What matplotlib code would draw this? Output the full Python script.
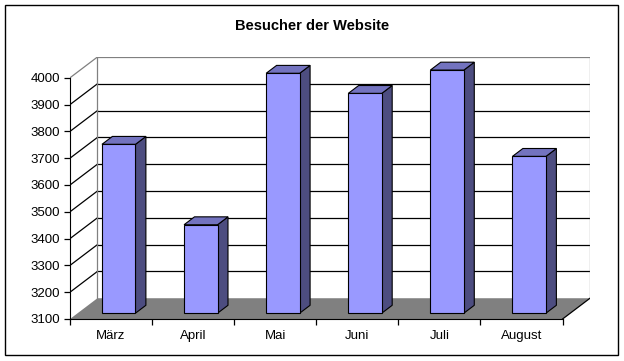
import numpy as np
import matplotlib.pyplot as plt
from matplotlib.patches import Polygon, Rectangle

plt.rcParams['font.family'] = ['Liberation Sans', 'DejaVu Sans']

monate = ['März', 'April', 'Mai', 'Juni', 'Juli', 'August']
besucher = [3730, 3430, 3995, 3920, 4007, 3685]
y_ticks = list(range(3100, 4001, 100))

# Schrägprojektion der Tiefe (in Datenkoordinaten)
dx, dy = 0.334, 77.5
d0, d1 = 0.28, 0.66
halb = 0.204
ymin, ymax = 3100, 4000

fig = plt.figure(figsize=(6.24, 3.61), dpi=100)
fig.patches.append(Rectangle((5/624, 1 - 355/361), 613/624, 350/361,
                             transform=fig.transFigure, fill=False,
                             edgecolor='black', lw=1.0))
fig.text(312/624, 1 - 26/361, 'Besucher der Website', ha='center',
         va='center', fontsize=10.5, fontweight='bold')

ax = fig.add_axes([70/624, 1 - 319/361, 520/624, 262/361])
n = len(monate)
ax.set_xlim(0, n + dx)
ax.set_ylim(ymin, ymax + dy)

# Rückwand: Gitterlinien
for v in y_ticks[1:-1]:
    ax.plot([dx, n + dx], [v + dy, v + dy], color='black', lw=0.9, zorder=1)
    ax.plot([0, dx], [v, v + dy], color='black', lw=0.9, zorder=1)
ax.plot([0, dx], [ymax, ymax + dy], color='#808080', lw=0.9, zorder=1)
ax.plot([dx, dx, n + dx, n + dx], [ymin + dy, ymax + dy, ymax + dy, ymin + dy],
        color='#808080', lw=0.9, zorder=1)

# Boden
ax.add_patch(Polygon([(0, ymin), (n, ymin), (n + dx, ymin + dy), (dx, ymin + dy)],
                     closed=True, facecolor='#808080', edgecolor='none', zorder=2))
ax.plot([n, n + dx], [ymin, ymin + dy], color='black', lw=0.9, zorder=2)

# Säulen
for i, v in enumerate(besucher):
    x0 = i + 0.5 - halb + d0 * dx
    x1 = i + 0.5 + halb + d0 * dx
    y0 = ymin + d0 * dy
    y1 = v + d0 * dy
    ox, oy = (d1 - d0) * dx, (d1 - d0) * dy
    front = [(x0, y0), (x1, y0), (x1, y1), (x0, y1)]
    side = [(x1, y0), (x1 + ox, y0 + oy), (x1 + ox, y1 + oy), (x1, y1)]
    top = [(x0, y1), (x1, y1), (x1 + ox, y1 + oy), (x0 + ox, y1 + oy)]
    for pts, col in [(side, '#4D4D80'), (top, '#7373BF'), (front, '#9999FF')]:
        ax.add_patch(Polygon(pts, closed=True, facecolor=col,
                             edgecolor='black', lw=0.8, zorder=3))

for s in ['top', 'right']:
    ax.spines[s].set_visible(False)
ax.spines['left'].set_bounds(ymin, ymax)
ax.spines['bottom'].set_bounds(0, n)
ax.spines['left'].set_zorder(4)
ax.spines['bottom'].set_zorder(4)

ax.set_yticks(y_ticks)
ax.set_yticklabels([str(t) for t in y_ticks])
ax.tick_params(axis='y', direction='out', length=4, width=0.9, labelsize=9.5, pad=3)

ax.set_xticks(np.arange(n + 1))
ax.set_xticklabels([])
ax.set_xticks(np.arange(n) + 0.5, minor=True)
ax.set_xticklabels(monate, minor=True)
ax.tick_params(axis='x', which='major', direction='out', length=4, width=0.9)
ax.tick_params(axis='x', which='minor', length=0, labelsize=9.5, pad=8)
ax.patch.set_visible(False)

fig.savefig('out.png', dpi=100)
